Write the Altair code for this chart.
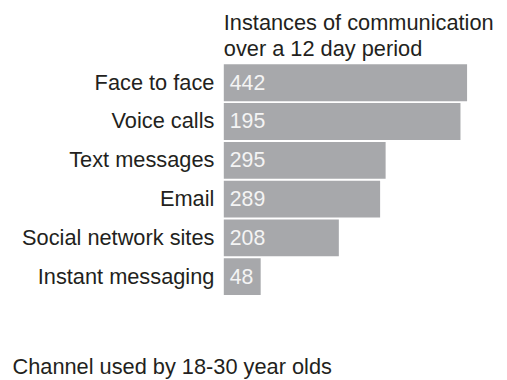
import altair as alt
import pandas as pd

channels = ["Face to face", "Voice calls", "Text messages", "Email",
            "Social network sites", "Instant messaging"]
bar_lengths = [442, 430, 294, 284, 209, 67]
value_labels = [442, 195, 295, 289, 208, 48]

df = pd.DataFrame({"channel": channels, "length": bar_lengths, "label": value_labels})

FONT = "Liberation Sans"
TXT = "#231f20"

y_enc = alt.Y("channel:N", sort=channels,
              scale=alt.Scale(paddingInner=0.05, paddingOuter=0),
              axis=alt.Axis(title=None, ticks=False, domain=False, labelPadding=10,
                            labelFontSize=22, labelFont=FONT, labelColor=TXT,
                            labelLimit=400))

x_scale = alt.Scale(domain=[0, 500], nice=False, zero=True)

bars = alt.Chart(df).mark_bar(color="#a7a8ab").encode(
    x=alt.X("length:Q", scale=x_scale,
            axis=alt.Axis(labels=False, ticks=False, domain=False, grid=False,
                          title="Channel used by 18-30 year olds",
                          titleFont=FONT, titleFontSize=22, titleFontWeight="normal",
                          titleColor=TXT, titleAnchor="start", titleAlign="left",
                          titleBaseline="alphabetic", titleX=-214, titleY=79)),
    y=y_enc,
)

labels = alt.Chart(df).mark_text(align="left", baseline="middle", dx=6, dy=1,
                                 color="#f4f4f4", fontSize=21.5, font=FONT).encode(
    x=alt.datum(0, scale=x_scale),
    y=alt.Y("channel:N", sort=channels),
    text=alt.Text("label:Q"),
)

chart = alt.layer(bars, labels).properties(
    width=278, height=233,
    title=alt.TitleParams(["Instances of communication", "over a 12 day period"],
                          anchor="start", frame="group", font=FONT, fontSize=22,
                          fontWeight="normal", color=TXT, lineHeight=27,
                          baseline="bottom", offset=-19),
    autosize=alt.AutoSizeParams(type="none"),
    padding={"left": 218, "top": 55, "right": 0, "bottom": 90},
    background="white",
).configure_view(stroke=None)

chart.save("out.html", embed_options={"renderer": "svg", "actions": False})
